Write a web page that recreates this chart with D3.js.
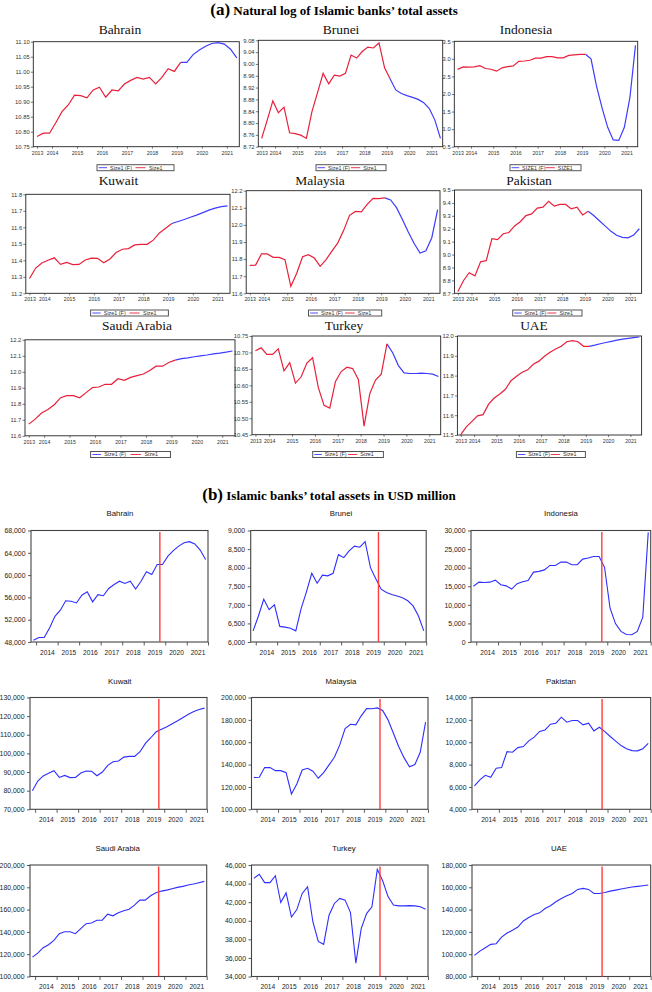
<!DOCTYPE html>
<html><head><meta charset="utf-8">
<script src="https://cdn.jsdelivr.net/npm/d3@7"></script>
<style>body{margin:0;background:#fff}svg{display:block}</style>
</head><body>
<svg id="c" width="652" height="992"></svg>
<script>
// ---------------- DATA ----------------
const periods = ["2013Q2","2013Q3","2013Q4","2014Q1","2014Q2","2014Q3","2014Q4","2015Q1","2015Q2","2015Q3","2015Q4",
  "2016Q1","2016Q2","2016Q3","2016Q4","2017Q1","2017Q2","2017Q3","2017Q4","2018Q1","2018Q2","2018Q3","2018Q4",
  "2019Q1","2019Q2","2019Q3","2019Q4","2020Q1","2020Q2","2020Q3","2020Q4","2021Q1","2021Q2"];
const lastActual = 23;
const countries = ["Bahrain","Brunei","Indonesia","Kuwait","Malaysia","Pakistan","Saudi Arabia","Turkey","UAE"];
const yearsA = ["2013","2014","2015","2016","2017","2018","2019","2020","2021"];
const yearsB = ["2014","2015","2016","2017","2018","2019","2020","2021"];
const legendLabels = ["Size1 (F)","Size1"];
const legendLabelsUpper = ["SIZE1 (F)","SIZE1"];

// (a) natural log of total assets
const lnBahrain = [10.784,10.795,10.795,10.830,10.867,10.889,10.922,10.920,10.913,10.939,10.948,10.915,10.939,10.936,10.959,10.971,10.981,10.975,10.981,10.959,10.981,11.010,11.001,11.031,11.031,11.057,11.072,11.085,11.094,11.097,11.092,11.075,11.046];
const lnBrunei = [8.748,8.810,8.875,8.835,8.854,8.767,8.764,8.759,8.748,8.839,8.903,8.968,8.933,8.962,8.959,8.968,9.030,9.020,9.042,9.057,9.054,9.071,8.987,8.949,8.912,8.900,8.893,8.887,8.880,8.869,8.849,8.810,8.748];
const lnIndonesia = [2.700,2.770,2.765,2.770,2.805,2.725,2.705,2.650,2.745,2.780,2.800,2.930,2.940,2.960,3.020,3.020,3.065,3.065,3.030,3.030,3.100,3.115,3.130,3.130,3.000,2.219,1.599,1.051,0.693,0.678,1.051,1.902,3.384];
const lnKuwait = [11.290,11.353,11.384,11.400,11.415,11.375,11.387,11.374,11.375,11.402,11.413,11.412,11.385,11.408,11.447,11.467,11.471,11.493,11.497,11.497,11.522,11.566,11.594,11.623,11.635,11.647,11.661,11.674,11.689,11.704,11.716,11.725,11.730];
const lnMalaysia = [11.763,11.765,11.830,11.830,11.810,11.810,11.797,11.641,11.717,11.814,11.826,11.806,11.758,11.797,11.847,11.895,11.968,12.056,12.079,12.076,12.120,12.155,12.154,12.158,12.146,12.101,12.032,11.958,11.891,11.835,11.849,11.925,12.090];
const lnPakistan = [8.714,8.799,8.859,8.835,8.945,8.953,9.123,9.116,9.161,9.171,9.222,9.254,9.302,9.315,9.360,9.367,9.412,9.375,9.388,9.388,9.354,9.367,9.307,9.336,9.301,9.260,9.220,9.180,9.150,9.133,9.130,9.151,9.200];
const lnSaudi = [11.673,11.704,11.742,11.764,11.794,11.838,11.851,11.851,11.838,11.870,11.901,11.905,11.922,11.922,11.957,11.947,11.965,11.976,11.986,12.008,12.035,12.035,12.058,12.073,12.082,12.087,12.094,12.100,12.105,12.112,12.117,12.123,12.130];
const lnTurkey = [10.705,10.714,10.694,10.694,10.711,10.644,10.669,10.607,10.626,10.668,10.684,10.593,10.539,10.531,10.612,10.642,10.655,10.651,10.618,10.476,10.575,10.616,10.634,10.726,10.699,10.660,10.638,10.636,10.636,10.637,10.636,10.634,10.627];
const lnUAE = [11.502,11.541,11.569,11.597,11.603,11.656,11.687,11.707,11.731,11.774,11.797,11.817,11.829,11.857,11.873,11.898,11.918,11.934,11.948,11.971,11.977,11.971,11.948,11.948,11.954,11.961,11.967,11.973,11.979,11.984,11.988,11.992,11.995];

// (b) total assets, USD million
const usdBahrain = [48300,48800,48800,50500,52600,53700,55400,55300,55000,56400,57000,55200,56500,56300,57600,58300,58900,58500,58900,57500,58900,60600,60100,61900,61900,63400,64400,65200,65800,66000,65600,64500,62800];
const usdBrunei = [6300,6700,7150,6870,7000,6420,6400,6370,6300,6900,7350,7850,7580,7800,7780,7850,8350,8270,8450,8580,8550,8700,8000,7700,7420,7330,7280,7240,7190,7110,6970,6700,6300];
const usdIndonesia = [15000,16100,16000,16100,16650,15400,15100,14250,15700,16200,16550,18800,19000,19400,20600,20600,21500,21500,20800,20800,22300,22600,23000,23000,20100,9200,4950,2860,2000,1970,2860,6700,29500];
const usdKuwait = [80000,85200,87900,89300,90700,87100,88200,87000,87100,89500,90500,90400,88000,90000,93600,95500,95900,98000,98400,98400,100900,105400,108400,111600,113000,114300,115900,117500,119300,121000,122500,123600,124300];
const usdMalaysia = [128400,128700,137300,137300,134600,134600,132800,113700,122700,135200,136700,134000,127800,132800,139700,146600,157600,172200,176100,175500,183600,190100,189900,190700,188400,180000,168000,156000,146000,138000,140000,151000,178000];
const usdPakistan = [6090,6630,7040,6870,7670,7730,9160,9100,9520,9610,10120,10450,10960,11100,11610,11700,12240,11790,11940,11940,11550,11700,11010,11340,10950,10510,10100,9700,9420,9250,9230,9420,9900];
const usdSaudi = [117400,121000,125800,128500,132400,138400,140200,140200,138400,142900,147400,148000,150500,150500,155900,154400,157100,158900,160400,164000,168500,168500,172400,175100,176600,177500,178700,179900,180800,182000,182900,184100,185300];
const usdTurkey = [44560,45000,44100,44100,44850,41960,43000,40400,41200,42940,43650,39870,37780,37460,40600,41860,42400,42220,40880,35440,39150,40770,41500,45530,44300,42600,41700,41600,41600,41630,41600,41500,41250];
const usdUAE = [98900,102800,105800,108800,109400,115400,119000,121400,124400,129800,132900,135600,137100,141000,143400,147000,150000,152400,154500,158100,159000,158100,154500,154500,155400,156600,157500,158400,159300,160200,160800,161400,162000];

// y-axis [min, max, step]
const axLnBahrain = [10.75, 11.10, 0.05], axLnBrunei = [8.72, 9.08, 0.04], axLnIndonesia = [0.5, 3.5, 0.5];
const axLnKuwait = [11.2, 11.8, 0.1], axLnMalaysia = [11.6, 12.2, 0.1], axLnPakistan = [8.7, 9.5, 0.1];
const axLnSaudi = [11.6, 12.2, 0.1], axLnTurkey = [10.45, 10.75, 0.05], axLnUAE = [11.5, 12.0, 0.1];
const axUsdBahrain = [48000, 68000, 4000], axUsdBrunei = [6000, 9000, 500], axUsdIndonesia = [0, 30000, 5000];
const axUsdKuwait = [70000, 130000, 10000], axUsdMalaysia = [100000, 200000, 20000], axUsdPakistan = [4000, 14000, 2000];
const axUsdSaudi = [100000, 200000, 20000], axUsdTurkey = [34000, 46000, 2000], axUsdUAE = [80000, 180000, 20000];

// ---------------- LAYOUT ----------------
// frame: [left, right, top, bottom]; title: [cx, baseline]; legend: [x0, x1, cy]
const layoutA = [
  {frame:[33.3,239.3,41.7,146.7], title:[120,33.5], legend:[97,174,167.7]},
  {frame:[258.3,442.7,40.3,146.7], title:[341,33.5], legend:[316,386,167.7]},
  {frame:[454.3,637.7,41.3,146.7], title:[526,33.5], legend:[510,581,167.7]},
  {frame:[25.8,230,194.3,293.3], title:[118.5,184.5], legend:[90.6,168.4,313]},
  {frame:[246.2,440,190.7,293.3], title:[320,184.5], legend:[308.5,381.7,313]},
  {frame:[454.5,641.6,190,293.3], title:[529,184.5], legend:[512.7,582,313]},
  {frame:[25,235,339.8,435.8], title:[137,330], legend:[90.6,170.5,454.5]},
  {frame:[252,440.7,336,434.7], title:[344,330], legend:[312.7,383.4,454.5]},
  {frame:[457.4,641.6,336,435], title:[534,330], legend:[516.4,585.4,454.5]}
];
const layoutB = [
  {frame:[31,208,530.5,642], title:[120,516]},
  {frame:[250.7,426.2,530.5,642], title:[341,516]},
  {frame:[471,650.7,530.5,642], title:[561,516]},
  {frame:[30,207,697.5,809.3], title:[119.8,683.5]},
  {frame:[251.5,428,697.5,809.3], title:[341,683.5]},
  {frame:[472,650.7,697.5,809.3], title:[561,683.5]},
  {frame:[30,206.7,865,976.5], title:[117.7,850.7]},
  {frame:[251.5,428,865,976.5], title:[344,850.7]},
  {frame:[472,650.7,865,976.5], title:[559,850.7]}
];

const seriesA = [lnBahrain, lnBrunei, lnIndonesia, lnKuwait, lnMalaysia, lnPakistan, lnSaudi, lnTurkey, lnUAE];
const seriesB = [usdBahrain, usdBrunei, usdIndonesia, usdKuwait, usdMalaysia, usdPakistan, usdSaudi, usdTurkey, usdUAE];
const axesA = [axLnBahrain, axLnBrunei, axLnIndonesia, axLnKuwait, axLnMalaysia, axLnPakistan, axLnSaudi, axLnTurkey, axLnUAE];
const axesB = [axUsdBahrain, axUsdBrunei, axUsdIndonesia, axUsdKuwait, axUsdMalaysia, axUsdPakistan, axUsdSaudi, axUsdTurkey, axUsdUAE];

const SANS = "'Liberation Sans', Arial, Helvetica, sans-serif";
const SERIF = "'Liberation Serif', 'Times New Roman', serif";
const RED_A = "#e8203a", BLUE_A = "#3c3cff", BLUE_B = "#2e2eff", RED_B = "#ff3c3c";

const svg = d3.select("#c");
svg.append("rect").attr("width", 652).attr("height", 992).attr("fill", "#fff");

// main titles
function mainTitle(tag, rest, cx, base) {
  const t = svg.append("text").attr("x", cx).attr("y", base).attr("text-anchor", "middle")
    .attr("font-family", SERIF).attr("font-weight", "bold").attr("fill", "#000");
  t.append("tspan").attr("font-size", 17).text(tag);
  t.append("tspan").attr("font-size", 13).text(rest);
}
mainTitle("(a)", " Natural log of Islamic banks\u2019 total assets", 334, 14.5);
mainTitle("(b)", " Islamic banks\u2019 total assets in USD million", 329, 500);

function tickValues(ax) {
  const [lo, hi, st] = ax;
  return d3.range(0, Math.round((hi - lo) / st) + 1).map(k => +(lo + k * st).toFixed(4));
}
function decimals(st) { return st < 0.1 - 1e-9 ? 2 : 1; }

// ---------------- PART (a) ----------------
countries.forEach((name, i) => {
  const L = layoutA[i], vals = seriesA[i], ax = axesA[i];
  const [fx0, fx1, fy0, fy1] = L.frame;
  const x = d3.scaleLinear().domain([-0.6, 32.4]).range([fx0, fx1]);
  const y = d3.scaleLinear().domain([ax[0], ax[1]]).range([fy1, fy0]);
  const g = svg.append("g");

  g.append("text").attr("x", L.title[0]).attr("y", L.title[1]).attr("text-anchor", "middle")
    .attr("font-family", SERIF).attr("font-size", 13.5).attr("fill", "#111").text(name);

  const ya = d3.axisLeft(y).tickValues(tickValues(ax)).tickFormat(d3.format("." + decimals(ax[2]) + "f"))
    .tickSize(2.5).tickPadding(1.2);
  const gy = g.append("g").attr("transform", `translate(${fx0},0)`).call(ya)
    .attr("font-size", 5.8).attr("font-family", SANS);
  gy.select(".domain").remove();
  gy.selectAll("line").attr("stroke", "#444").attr("stroke-width", 0.7);
  gy.selectAll("text").attr("fill", "#333");

  const xPos = yearsA.map((yr, k) => k === 0 ? 0 : 2.4 + 4 * (k - 1));
  const xa = d3.axisBottom(x).tickValues(xPos).tickFormat((d, k) => yearsA[k]).tickSize(2).tickPadding(2.2);
  const gx = g.append("g").attr("transform", `translate(0,${fy1})`).call(xa)
    .attr("font-size", 5.2).attr("font-family", SANS);
  gx.select(".domain").remove();
  gx.selectAll("line").attr("stroke", "#444").attr("stroke-width", 0.7);
  gx.selectAll("text").attr("fill", "#333");

  g.append("rect").attr("x", fx0).attr("y", fy0).attr("width", fx1 - fx0).attr("height", fy1 - fy0)
    .attr("fill", "none").attr("stroke", "#222").attr("stroke-width", 0.9);

  const line = d3.line().x(d => x(d.i)).y(d => y(d.v));
  const pts = vals.map((v, k) => ({i: k, v}));
  g.append("path").datum(pts.filter(d => d.i >= lastActual)).attr("d", line)
    .attr("fill", "none").attr("stroke", BLUE_A).attr("stroke-width", 1.2);
  g.append("path").datum(pts.filter(d => d.i <= lastActual)).attr("d", line)
    .attr("fill", "none").attr("stroke", RED_A).attr("stroke-width", 1.2);

  // legend
  const [lx0, lx1, ly] = L.legend, w = lx1 - lx0;
  const labs = name === "Indonesia" ? legendLabelsUpper : legendLabels;
  const lg = g.append("g");
  lg.append("rect").attr("x", lx0).attr("y", ly - 3).attr("width", w).attr("height", 6)
    .attr("fill", "#fff").attr("stroke", "#555").attr("stroke-width", 1);
  lg.append("line").attr("x1", lx0 + w * 0.022).attr("x2", lx0 + w * 0.13).attr("y1", ly).attr("y2", ly)
    .attr("stroke", BLUE_A).attr("stroke-width", 0.9);
  lg.append("text").attr("x", lx0 + w * 0.17).attr("y", ly + 1.9).attr("font-size", 5.4).attr("font-family", SANS)
    .attr("fill", "#333").text(labs[0]);
  lg.append("line").attr("x1", lx0 + w * 0.5).attr("x2", lx0 + w * 0.63).attr("y1", ly).attr("y2", ly)
    .attr("stroke", RED_A).attr("stroke-width", 0.9);
  lg.append("text").attr("x", lx0 + w * 0.674).attr("y", ly + 1.9).attr("font-size", 5.4).attr("font-family", SANS)
    .attr("fill", "#333").text(labs[1]);
});

// ---------------- PART (b) ----------------
countries.forEach((name, i) => {
  const L = layoutB[i], vals = seriesB[i], ax = axesB[i];
  const [fx0, fx1, fy0, fy1] = L.frame;
  const x = d3.scaleLinear().domain([-0.45, 32.45]).range([fx0, fx1]);
  const y = d3.scaleLinear().domain([ax[0], ax[1]]).range([fy1, fy0]);
  const g = svg.append("g");

  g.append("text").attr("x", L.title[0]).attr("y", L.title[1]).attr("text-anchor", "middle")
    .attr("font-family", SANS).attr("font-size", 7.8).attr("fill", "#111").text(name);

  const ya = d3.axisLeft(y).tickValues(tickValues(ax)).tickFormat(d3.format(",")).tickSize(3).tickPadding(2.5);
  const gy = g.append("g").attr("transform", `translate(${fx0},0)`).call(ya)
    .attr("font-size", 6.9).attr("font-family", SANS);
  gy.select(".domain").remove();
  gy.selectAll("line").attr("stroke", "#333").attr("stroke-width", 0.8);
  gy.selectAll("text").attr("fill", "#222");

  const labPos = yearsB.map((yr, k) => 2.5 + 4 * k);
  const xa = d3.axisBottom(x).tickValues(labPos).tickFormat((d, k) => yearsB[k]).tickSize(0).tickPadding(8);
  const gx = g.append("g").attr("transform", `translate(0,${fy1})`).call(xa)
    .attr("font-size", 6.6).attr("font-family", SANS);
  gx.select(".domain").remove();
  gx.selectAll("text").attr("fill", "#222");
  const bPos = d3.range(0, 9).map(k => Math.min(32.45, 0.5 + 4 * k));
  const xb = d3.axisBottom(x).tickValues(bPos).tickFormat("").tickSize(3.5).tickSizeOuter(0);
  const gb = g.append("g").attr("transform", `translate(0,${fy1})`).call(xb);
  gb.select(".domain").remove();
  gb.selectAll("line").attr("stroke", "#333").attr("stroke-width", 0.8);

  g.append("rect").attr("x", fx0).attr("y", fy0).attr("width", fx1 - fx0).attr("height", fy1 - fy0)
    .attr("fill", "none").attr("stroke", "#444").attr("stroke-width", 1.1);

  const line = d3.line().x((d, k) => x(k)).y(d => y(d));
  g.append("path").datum(vals).attr("d", line)
    .attr("fill", "none").attr("stroke", BLUE_B).attr("stroke-width", 1.1);

  g.append("line").attr("x1", x(lastActual + 0.5)).attr("x2", x(lastActual + 0.5))
    .attr("y1", fy0 + 1.5).attr("y2", fy1).attr("stroke", RED_B).attr("stroke-width", 1.4);
});
</script>
</body></html>
